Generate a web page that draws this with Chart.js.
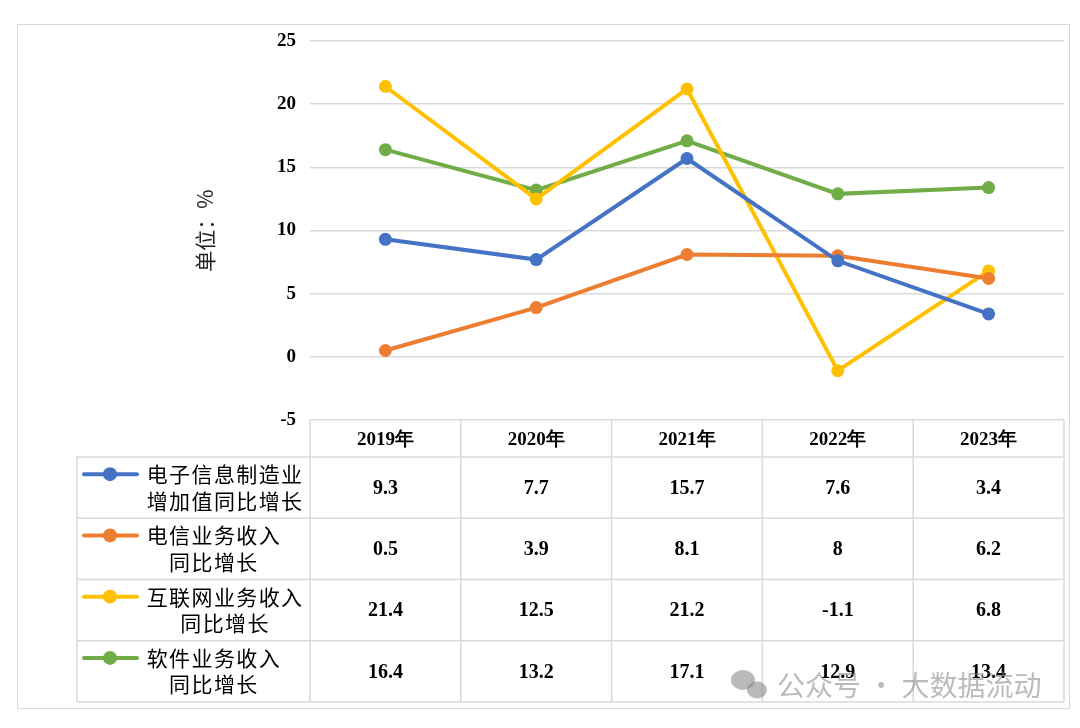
<!DOCTYPE html>
<html>
<head>
<meta charset="utf-8">
<script src="https://cdn.jsdelivr.net/npm/chart.js@4.4.1/dist/chart.umd.min.js"></script>
<style>
  html, body { margin: 0; padding: 0; background: #fff; }
  #wrap { width: 1080px; height: 728px; position: relative; }
</style>
</head>
<body>
<div id="wrap"><canvas id="chart" width="1080" height="728"></canvas></div>
<script>
var years = ["2019年", "2020年", "2021年", "2022年", "2023年"];
var seriesNames = [
  ["电子信息制造业", "增加值同比增长"],
  ["电信业务收入", "同比增长"],
  ["互联网业务收入", "同比增长"],
  ["软件业务收入", "同比增长"]
];
var electronics = [9.3, 7.7, 15.7, 7.6, 3.4];
var telecom = [0.5, 3.9, 8.1, 8, 6.2];
var internet = [21.4, 12.5, 21.2, -1.1, 6.8];
var software = [16.4, 13.2, 17.1, 12.9, 13.4];
var yTicks = [-5, 0, 5, 10, 15, 20, 25];

var colors = ["#4472C4", "#ED7D31", "#FFC000", "#70AD47"];
var allSeries = [electronics, telecom, internet, software];
var serif = "'Liberation Serif', 'Times New Roman', serif";
var cjk = "'Noto Sans CJK SC', sans-serif";

// table under the plot: header row holds the x ticks, one row per series
var tablePlugin = {
  id: "dataTable",
  afterDraw: function (chart) {
    var ctx = chart.ctx;
    var x = chart.scales.x;
    var area = chart.chartArea;
    var step = (area.right - area.left) / years.length;
    var headTop = area.bottom;
    var headBottom = 457;
    var rowH = 61.25;
    var tableLeft = 77;
    var tableBottom = headBottom + rowH * allSeries.length;

    ctx.save();
    ctx.strokeStyle = "#d9d9d9";
    ctx.lineWidth = 1.5;
    ctx.beginPath();
    for (var r = 0; r <= allSeries.length; r++) {
      var yy = headBottom + r * rowH;
      ctx.moveTo(tableLeft, yy);
      ctx.lineTo(area.right, yy);
    }
    ctx.moveTo(tableLeft, headBottom);
    ctx.lineTo(tableLeft, tableBottom);
    for (var c = 0; c <= years.length; c++) {
      var xx = c < years.length ? x.getPixelForValue(c) - step / 2 : x.getPixelForValue(years.length - 1) + step / 2;
      ctx.moveTo(xx, headTop);
      ctx.lineTo(xx, tableBottom);
    }
    ctx.stroke();

    // outer frame
    ctx.lineWidth = 1;
    ctx.strokeRect(17.5, 24.5, 1052, 684);

    for (var i = 0; i < allSeries.length; i++) {
      var top = headBottom + i * rowH;
      var mid = top + rowH / 2;
      var y1 = mid - 13.5, y2 = mid + 13;

      // legend key
      ctx.strokeStyle = colors[i];
      ctx.lineWidth = 4;
      ctx.lineCap = "round";
      ctx.beginPath();
      ctx.moveTo(84, y1);
      ctx.lineTo(137, y1);
      ctx.stroke();
      ctx.fillStyle = colors[i];
      ctx.beginPath();
      ctx.arc(110, y1, 7, 0, Math.PI * 2);
      ctx.fill();

      // series name, two lines centred on the first one
      ctx.fillStyle = "#000";
      ctx.font = "21px " + cjk;
      ctx.textAlign = "center";
      ctx.textBaseline = "middle";
      var charStep = 22.4;
      var w1 = seriesNames[i][0].length * charStep;
      var blockMid = 146 + w1 / 2;
      [y1, y2].forEach(function (ly, k) {
        var txt = seriesNames[i][k];
        var start = blockMid - txt.length * charStep / 2;
        for (var ch = 0; ch < txt.length; ch++) {
          ctx.fillText(txt[ch], start + charStep * (ch + 0.5), ly);
        }
      });

      // values
      ctx.font = "bold 20px " + serif;
      for (var j = 0; j < years.length; j++) {
        ctx.fillText(String(allSeries[i][j]), x.getPixelForValue(j), mid + 1);
      }
    }

    // watermark
    ctx.fillStyle = "rgba(130,130,130,0.55)";
    ctx.beginPath();
    ctx.ellipse(743, 680, 12, 10, 0, 0, Math.PI * 2);
    ctx.fill();
    ctx.beginPath();
    ctx.ellipse(757, 690, 10, 8.5, 0, 0, Math.PI * 2);
    ctx.fill();
    ctx.font = "28px " + cjk;
    ctx.textAlign = "left";
    ctx.fillText("公众号 · 大数据流动", 777, 685);
    ctx.restore();
  }
};

new Chart(document.getElementById("chart"), {
  type: "line",
  data: {
    labels: years,
    datasets: allSeries.map(function (vals, i) {
      return {
        label: seriesNames[i].join(""),
        data: vals,
        borderColor: colors[i],
        backgroundColor: colors[i],
        borderWidth: 4,
        pointRadius: 6.5,
        pointBorderWidth: 0,
        pointBackgroundColor: colors[i],
        tension: 0,
        clip: false
      };
    })
  },
  options: {
    responsive: false,
    animation: false,
    layout: { padding: { left: 184, top: 41, right: 16, bottom: 271 } },
    plugins: { legend: { display: false }, tooltip: { enabled: false } },
    scales: {
      x: {
        offset: true,
        grid: { display: false },
        border: { display: false },
        ticks: { color: "#000", padding: 1, font: { family: serif, size: 19, weight: "bold" } },
        afterFit: function (s) { s.height = 37; }
      },
      y: {
        min: yTicks[0],
        max: yTicks[yTicks.length - 1],
        afterBuildTicks: function (s) { s.ticks = yTicks.map(function (v) { return { value: v }; }); },
        grid: { color: "#d9d9d9", lineWidth: 1.5, drawTicks: false },
        border: { display: false },
        ticks: { color: "#000", padding: 14, font: { family: serif, size: 19, weight: "bold" } },
        title: { display: true, text: "单位：%", color: "#222", padding: { top: 8, bottom: 0 }, font: { family: cjk, size: 21 } },
        afterFit: function (s) { s.width = 126; }
      }
    }
  },
  plugins: [tablePlugin]
});
</script>
</body>
</html>
